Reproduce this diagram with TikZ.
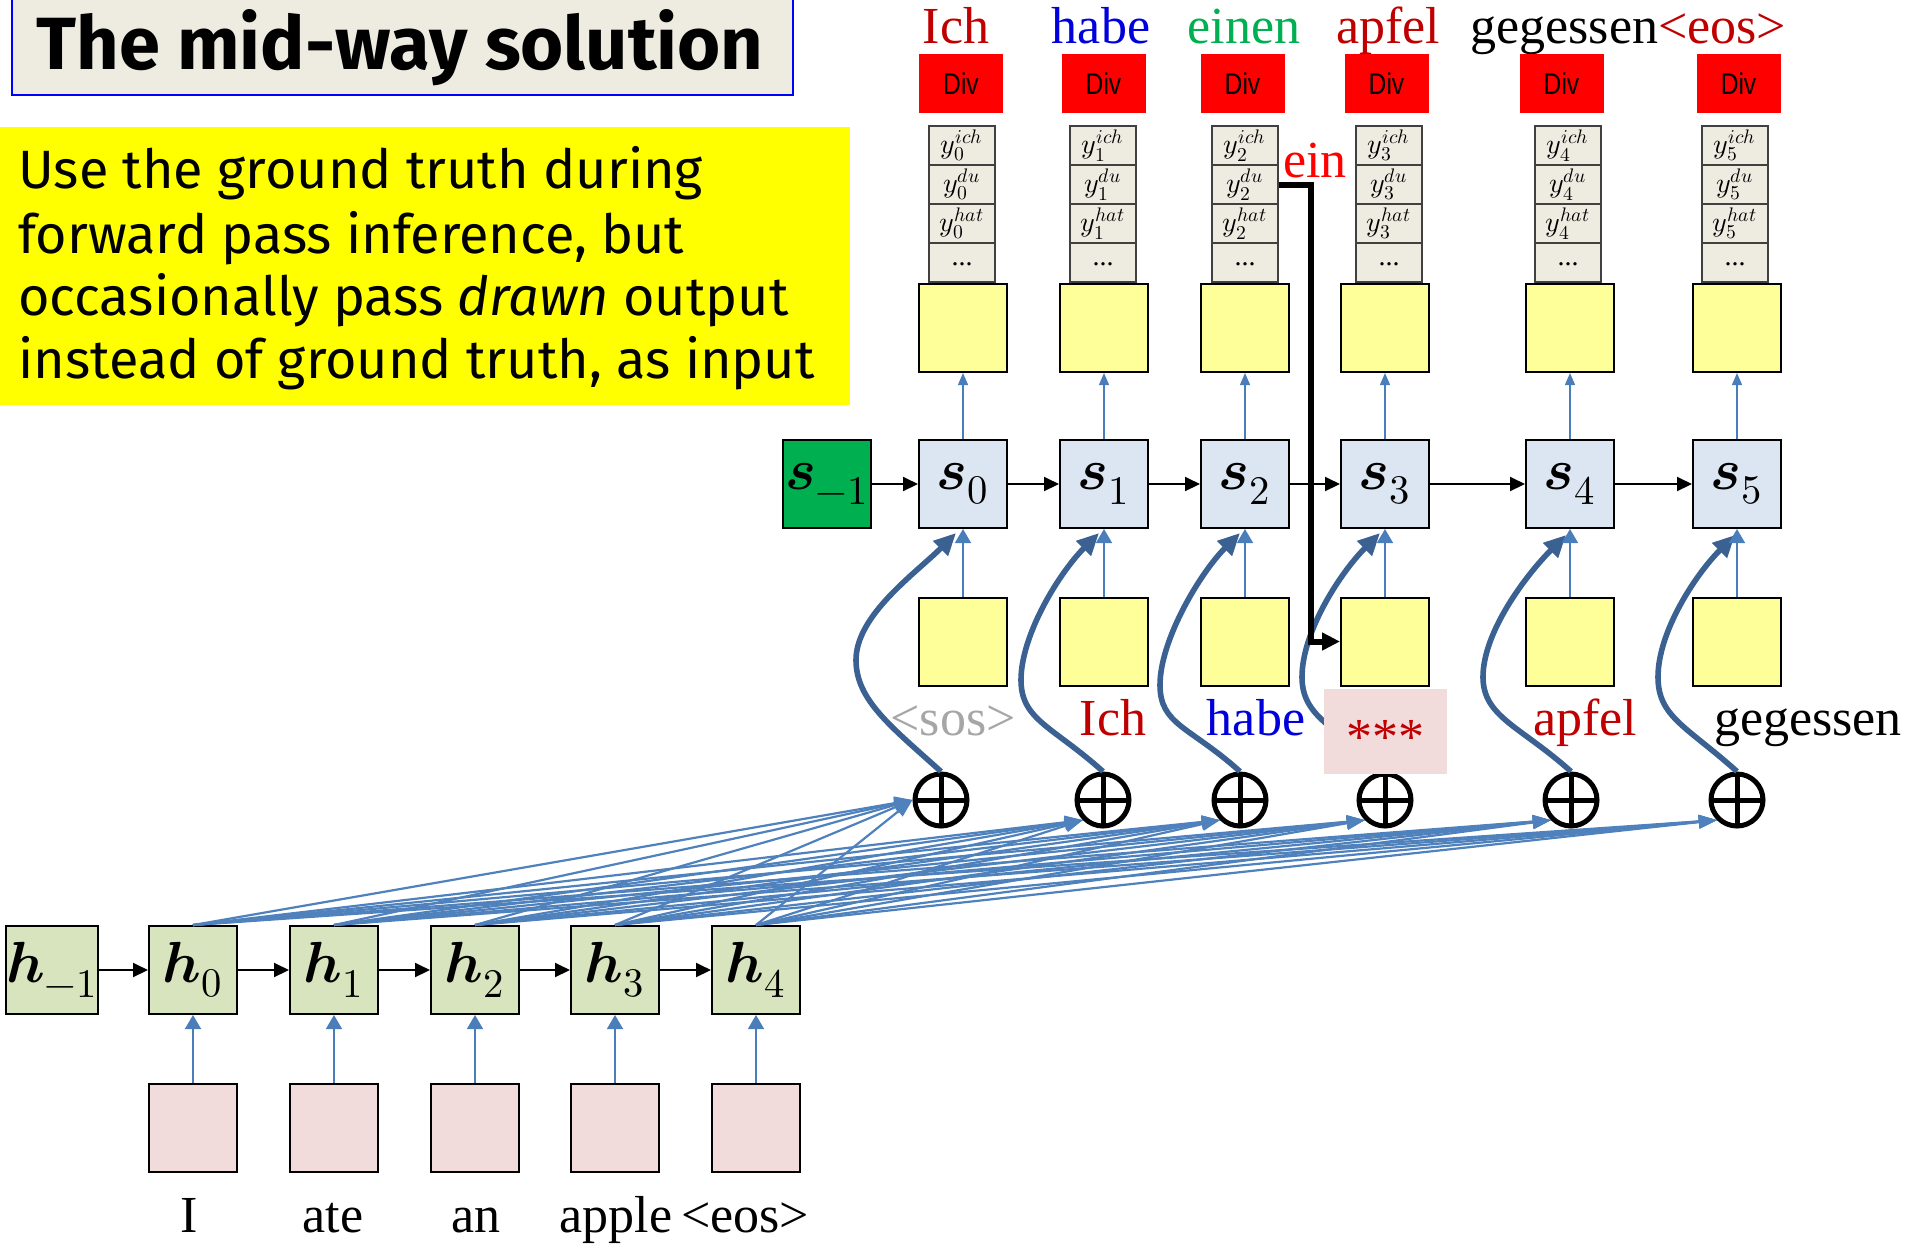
\documentclass[tikz,border=0pt]{standalone}
\usepackage{fontspec}
\usepackage{unicode-math}
\setmainfont{Liberation Serif}
\setmathfont{Latin Modern Math}
\newfontfamily\comicfont{Fira Sans}
\newfontfamily\divfont[FakeStretch=0.82]{Liberation Sans}
\usetikzlibrary{arrows.meta,calc}
\definecolor{hgreen}{HTML}{D7E4BD}
\definecolor{sblue}{HTML}{DCE6F2}
\definecolor{ybox}{HTML}{FFFF99}
\definecolor{pinkbox}{HTML}{F2DCDB}
\definecolor{sgreen}{HTML}{00B050}
\definecolor{cellfill}{HTML}{EEECE1}
\definecolor{cellborder}{HTML}{404040}
\definecolor{lineblue}{HTML}{4A7EBB}
\definecolor{attblue}{HTML}{4F81BD}
\definecolor{curveblue}{HTML}{3B6192}
\definecolor{darkred}{HTML}{C00000}
\definecolor{wblue}{HTML}{0000DD}
\definecolor{wgreen}{HTML}{00B050}
\definecolor{sosgray}{HTML}{A6A6A6}
\definecolor{titleblue}{HTML}{0000FF}
\definecolor{brightyellow}{HTML}{FFFF00}
\definecolor{brightred}{HTML}{FF0000}
\begin{document}
\begin{tikzpicture}[x=0.5pt,y=-0.5pt,
  box/.style={draw, line width=1pt, minimum width=44pt, minimum height=44pt, inner sep=0pt, font={\fontsize{29}{32}\selectfont}},
  hbox/.style={box, fill=hgreen},
  sbox/.style={box, fill=sblue},
  yelbox/.style={box, fill=ybox},
  inbox/.style={box, fill=pinkbox},
  divbox/.style={fill=brightred, minimum width=42pt, minimum height=29.5pt, inner sep=0pt, font={\divfont\fontsize{15}{16}\selectfont}},
  vcell/.style={draw=cellborder, fill=cellfill, line width=0.75pt, minimum width=33pt, minimum height=19.5pt, inner sep=0pt, font={\fontsize{14}{15}\selectfont}},
  plus/.style={circle, draw, fill=white, line width=2.5pt, minimum size=26pt, inner sep=0pt,
    path picture={\draw[line width=2.5pt] (path picture bounding box.north) -- (path picture bounding box.south) (path picture bounding box.west) -- (path picture bounding box.east);}},
  harrow/.style={-{Triangle[length=7.5pt,width=7pt]}, line width=1pt},
  blarrow/.style={-{Triangle[length=7pt,width=8pt]}, line width=0.8pt, draw=lineblue},
  smallblarrow/.style={-{Triangle[length=6pt,width=5pt]}, line width=0.7pt, draw=lineblue},
  attn/.style={-{Triangle[length=9pt,width=6.5pt]}, line width=1.1pt, draw=attblue},
  thickc/.style={-{Triangle[length=11pt,width=10pt]}, line width=2.8pt, draw=curveblue},
  blackthick/.style={-{Triangle[length=9pt,width=8.5pt]}, line width=3pt},
  word/.style={anchor=base, inner sep=0pt, font={\fontsize{26}{30}\selectfont}},
  ytext/.style={anchor=base west, inner sep=0pt, font={\comicfont\fontsize{27}{30}\selectfont}}
]
\useasboundingbox (0,0) rectangle (1913,1250);

% title
\path[draw=titleblue, fill=cellfill, line width=1pt] (12,-5) rectangle (793,95);
\node[anchor=base, inner sep=0pt, font={\comicfont\bfseries\fontsize{37}{40}\selectfont}] (title) at (400,69) {The mid-way solution};

% yellow note
\fill[brightyellow] (0,127) rectangle (850,405);
\node[ytext] (l1) at (18,188) {Use the ground truth during};
\node[ytext] (l2) at (18,253) {forward pass inference, but};
\node[ytext] (l3) at (18,315) {occasionally pass \textit{drawn} output};
\node[ytext] (l4) at (18,378) {instead of ground truth, as input};

% top words
\node[word, text=darkred] (tw0) at (956,43) {Ich};
\node[word, text=wblue] (tw1) at (1101,43) {habe};
\node[word, text=wgreen] (tw2) at (1244,43) {einen};
\node[word, text=darkred] (tw3) at (1388,43) {apfel};
\node[word, anchor=base west] (tw4) at (1470,43) {gegessen{\color{darkred}<eos>}};

% Div boxes
\foreach \x [count=\i from 0] in {961,1103.5,1242.5,1386.5,1561.5,1738.5}
  \node[divbox] (d\i) at (\x,83.5) {Div};

% vocabulary stacks
\foreach \x [count=\i from 0] in {962,1103,1245,1389,1568,1735} {
  \node[vcell] (v\i a) at (\x,145.5) {$y_{\i}^{ich}$};
  \node[vcell] (v\i b) at (\x,184.5) {$y_{\i}^{du}$};
  \node[vcell] (v\i c) at (\x,223.5) {$y_{\i}^{hat}$};
  \node[vcell] (v\i d) at (\x,262.5) {\raisebox{-3pt}{...}};
}
\node[anchor=base west, inner sep=0pt, text=brightred, font={\fontsize{26}{30}\selectfont}] (ein) at (1283,177) {ein};

% decoder boxes
\foreach \x [count=\i from 0] in {963,1104,1245,1385,1570,1737} {
  \node[yelbox] (uy\i) at (\x,328) {};
  \node[sbox] (s\i) at (\x,484) {$\symbfit{s}_{\i}$};
  \node[yelbox] (ly\i) at (\x,641.5) {};
}
\node[box, fill=sgreen] (sm1) at (827,484) {$\symbfit{s}_{-1}$};

% plus nodes
\foreach \x [count=\i from 0] in {941,1103,1240,1385,1571,1737}
  \node[plus] (p\i) at (\x,800) {};

% thick curves
\draw[thickc] (p0.north) .. controls +(-50,-45) and +(0,40) .. (856,660) .. controls +(0,-45) and +(-40,40) .. ($(s0.south)+(-7,4)$);
\draw[thickc] (p1.north) .. controls +(-50,-45) and +(0,40) .. (1021,680) .. controls +(0,-45) and +(-40,40) .. ($(s1.south)+(-5,4)$);
\draw[thickc] (p2.north) .. controls +(-50,-45) and +(0,40) .. (1160,685) .. controls +(0,-45) and +(-40,40) .. ($(s2.south)+(-5,4)$);
\draw[thickc] (p3.north) .. controls +(-50,-45) and +(0,40) .. (1302,677) .. controls +(0,-45) and +(-40,40) .. ($(s3.south)+(-5,4)$);
\draw[thickc] (p4.north) .. controls +(-50,-45) and +(0,40) .. (1483,677) .. controls +(0,-45) and +(-40,40) .. ($(s4.south)+(-4,6)$);
\draw[thickc] (p5.north) .. controls +(-50,-45) and +(0,40) .. (1658,677) .. controls +(0,-45) and +(-40,40) .. ($(s5.south)+(-2,6)$);

% *** box and decoder input labels
\node[fill=pinkbox, minimum width=61.5pt, minimum height=42.5pt, inner sep=0pt] (stars) at (1385.5,731.5) {};
\node[word, text=darkred] (starstext) at (1385,754) {***};
\node[word, text=sosgray] (dl0) at (953,735) {<sos>};
\node[word, text=darkred] (dl1) at (1113,735) {Ich};
\node[word, text=wblue] (dl2) at (1256,735) {habe};
\node[word, text=darkred] (dl4) at (1585,735) {apfel};
\node[word] (dl5) at (1808,735) {gegessen};

% decoder arrows
\foreach \a/\b in {m1/0,0/1,1/2,2/3,3/4,4/5}
  \draw[harrow] (s\a.east) -- (s\b.west);
\foreach \i in {0,...,5} {
  \draw[blarrow] (ly\i.north) -- (s\i.south);
  \draw[smallblarrow] (s\i.north) -- (uy\i.south);
}

% sampled output connector
\coordinate (bend) at (1311,184.5);
\draw[blackthick] (v2b.east) -- (bend) |- (ly3.west);

% encoder
\node[hbox] (hm1) at (52,970) {$\symbfit{h}_{-1}$};
\foreach \x [count=\i from 0] in {193,334,475,615,756} {
  \node[hbox] (h\i) at (\x,970) {$\symbfit{h}_{\i}$};
  \node[inbox] (x\i) at (\x,1127.5) {};
  \draw[blarrow] (x\i.north) -- (h\i.south);
}
\foreach \a/\b in {m1/0,0/1,1/2,2/3,3/4}
  \draw[harrow] (h\a.east) -- (h\b.west);

% attention lines
\foreach \j in {0,...,4} {
  \draw[attn] (h\j.north) -- (p0.west);
  \foreach \i in {1,...,5}
    \draw[attn] (h\j.north) -- (p\i.south west);
}

% input words
\node[word] (iw0) at (189,1232) {I};
\node[word] (iw1) at (333,1232) {ate};
\node[word] (iw2) at (476,1232) {an};
\node[word] (iw3) at (616,1232) {apple};
\node[word] (iw4) at (745,1232) {<eos>};
\end{tikzpicture}
\end{document}
